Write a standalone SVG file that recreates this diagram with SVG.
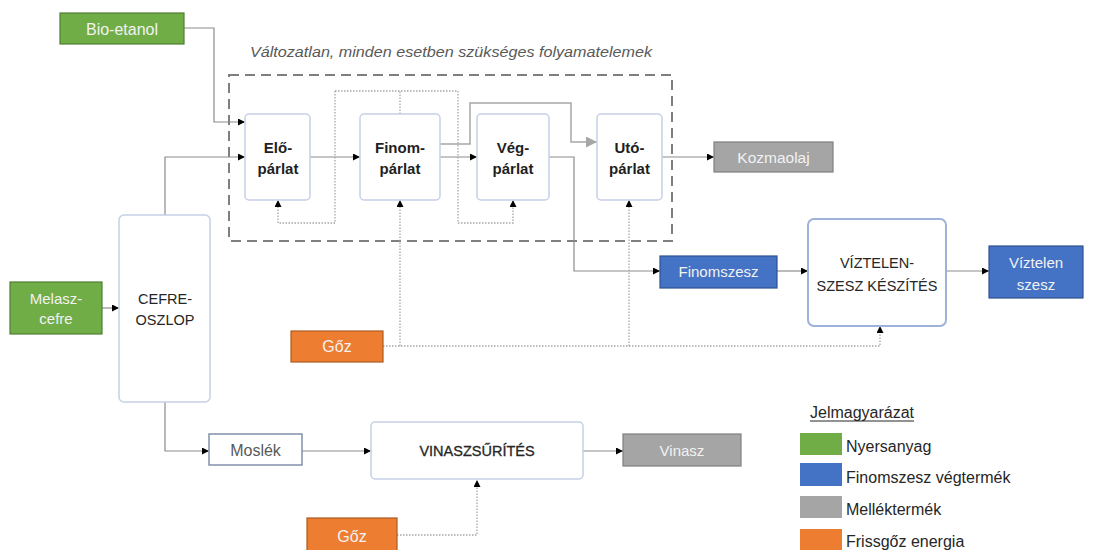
<svg xmlns="http://www.w3.org/2000/svg" width="1094" height="550" viewBox="0 0 1094 550">
<style>
text{font-family:"Liberation Sans",Arial,sans-serif;}
.proc{fill:#fff;stroke:#C5D0E6;stroke-width:1.5;}
.procb{font-size:15px;font-weight:bold;fill:#1f1f1f;text-anchor:middle;}
.procr{font-size:14.5px;fill:#262626;text-anchor:middle;}
.lt{fill:#F2F2F2;text-anchor:middle;}
.green{fill:#70AD47;stroke:#507E32;stroke-width:1.2;}
.blue{fill:#4472C4;stroke:#2F528F;stroke-width:1.2;}
.gray{fill:#A5A5A5;stroke:#7F7F7F;stroke-width:1.2;}
.orange{fill:#ED7D31;stroke:#AE5A21;stroke-width:1.2;}
.sol{fill:none;stroke:#8C8C8C;stroke-width:1.2;marker-end:url(#ah);}
.dot{fill:none;stroke:#A6A6A6;stroke-width:1.3;stroke-dasharray:1.5 1.5;}
.dota{fill:none;stroke:#A6A6A6;stroke-width:1.3;stroke-dasharray:1.5 1.5;marker-end:url(#ah);}
.leg{font-size:16px;fill:#262626;}
</style>
<defs>
<marker id="ah" markerUnits="userSpaceOnUse" markerWidth="8" markerHeight="7" refX="7" refY="3.5" orient="auto">
<path d="M0,0 L7,3.5 L0,7 z" fill="#000"/>
</marker>
<marker id="ahg" markerUnits="userSpaceOnUse" markerWidth="12" markerHeight="11" refX="11" refY="5.5" orient="auto">
<path d="M0,0 L11,5.5 L0,11 z" fill="#A6A6A6"/>
</marker>
</defs>

<text x="250" y="57" font-size="15" font-style="italic" fill="#595959" textLength="402" lengthAdjust="spacingAndGlyphs">Változatlan, minden esetben szükséges folyamatelemek</text>
<rect x="229" y="75" width="443" height="166" fill="none" stroke="#7F7F7F" stroke-width="2" stroke-dasharray="10 6"/>

<g id="connectors">
<path class="sol" d="M184,28 H214 V122 H245"/>
<path class="sol" d="M165,215 V157 H245"/>
<path class="sol" d="M102,308 H119"/>
<path class="sol" d="M310,157 H360"/>
<path class="sol" d="M440,157 H477"/>
<path d="M440,144 H470 V103 H571 V142 H597" fill="none" stroke="#A6A6A6" stroke-width="1.5" marker-end="url(#ahg)"/>
<path class="sol" d="M549,157 H574 V271 H660"/>
<path class="sol" d="M662,157 H714"/>
<path class="sol" d="M777,271 H808"/>
<path class="sol" d="M946,271 H989"/>
<path class="sol" d="M165,402 V451 H209"/>
<path class="sol" d="M302,451 H371"/>
<path class="sol" d="M583,451 H623"/>
<path class="dot" d="M400,114 V91"/>
<path class="dota" d="M335,91 H458 V223 H513 V200"/>
<path class="dota" d="M335,91 V223 H278 V200"/>
<path class="dota" d="M383,346 H880 V326"/>
<path class="dota" d="M400,346 V200"/>
<path class="dota" d="M629,346 V200"/>
<path class="dota" d="M397,535 H477 V480"/>
</g>

<g id="bio-etanol">
<rect class="green" x="60" y="13" width="124" height="31"/>
<text class="lt" x="122" y="34.5" font-size="16">Bio-etanol</text>
</g>
<g id="melasz-cefre">
<rect class="green" x="10" y="282" width="92" height="52"/>
<text class="lt" x="56" y="304" font-size="15">Melasz-</text>
<text class="lt" x="56" y="324" font-size="15">cefre</text>
</g>
<g id="cefre-oszlop">
<rect class="proc" x="119" y="215" width="91" height="187" rx="5"/>
<text class="procr" x="165" y="304">CEFRE-</text>
<text class="procr" x="165" y="325">OSZLOP</text>
</g>
<g id="elo-parlat">
<rect class="proc" x="245" y="114" width="65" height="86" rx="4"/>
<text class="procb" x="278" y="153">Elő-</text>
<text class="procb" x="278" y="174">párlat</text>
</g>
<g id="finom-parlat">
<rect class="proc" x="360" y="114" width="80" height="86" rx="4"/>
<text class="procb" x="400" y="153">Finom-</text>
<text class="procb" x="400" y="174">párlat</text>
</g>
<g id="veg-parlat">
<rect class="proc" x="477" y="114" width="72" height="86" rx="4"/>
<text class="procb" x="513" y="153">Vég-</text>
<text class="procb" x="513" y="174">párlat</text>
</g>
<g id="uto-parlat">
<rect class="proc" x="597" y="114" width="65" height="86" rx="4"/>
<text class="procb" x="629.5" y="153">Utó-</text>
<text class="procb" x="629.5" y="174">párlat</text>
</g>
<g id="kozmaolaj">
<rect class="gray" x="714" y="142" width="119" height="30"/>
<text class="lt" x="773.5" y="162.5" font-size="15.5">Kozmaolaj</text>
</g>
<g id="finomszesz">
<rect class="blue" x="660" y="256" width="117" height="32"/>
<text class="lt" x="718.5" y="277" font-size="15">Finomszesz</text>
</g>
<g id="viztelen-keszites">
<rect x="808" y="219" width="138" height="107" rx="6" fill="#fff" stroke="#9EB3DA" stroke-width="2"/>
<text class="procr" x="877" y="268">VÍZTELEN-</text>
<text class="procr" x="877" y="291">SZESZ KÉSZÍTÉS</text>
</g>
<g id="viztelen-szesz">
<rect class="blue" x="989" y="246" width="94" height="52"/>
<text class="lt" x="1036" y="268" font-size="15">Víztelen</text>
<text class="lt" x="1036" y="290" font-size="15">szesz</text>
</g>
<g id="goz-1">
<rect class="orange" x="291" y="331" width="92" height="31"/>
<text class="lt" x="337" y="352" font-size="16">Gőz</text>
</g>
<g id="moslek">
<rect x="209" y="434" width="93" height="31" fill="#fff" stroke="#8190AA" stroke-width="1.5"/>
<text x="255.5" y="455.5" font-size="16" fill="#595959" text-anchor="middle">Moslék</text>
</g>
<g id="vinaszsurites">
<rect class="proc" x="371" y="422" width="212" height="57" rx="4"/>
<text class="procr" x="477" y="456" stroke="#262626" stroke-width="0.3">VINASZSŰRÍTÉS</text>
</g>
<g id="vinasz">
<rect class="gray" x="623" y="434" width="118" height="32"/>
<text class="lt" x="682" y="455.5" font-size="15">Vinasz</text>
</g>
<g id="goz-2">
<rect class="orange" x="307" y="518" width="90" height="34"/>
<text class="lt" x="352" y="541.5" font-size="16">Gőz</text>
</g>

<g id="legend">
<text class="leg" x="810" y="418">Jelmagyarázat</text>
<line x1="810" y1="421" x2="914" y2="421" stroke="#262626" stroke-width="1"/>
<rect x="800" y="433" width="42" height="22" fill="#70AD47"/>
<text class="leg" x="846" y="452">Nyersanyag</text>
<rect x="800" y="463" width="42" height="23" fill="#4472C4"/>
<text class="leg" x="846" y="483">Finomszesz végtermék</text>
<rect x="800" y="496" width="42" height="22" fill="#A5A5A5"/>
<text class="leg" x="846" y="515">Melléktermék</text>
<rect x="800" y="529" width="42" height="23" fill="#ED7D31"/>
<text class="leg" x="846" y="547">Frissgőz energia</text>
</g>
</svg>
